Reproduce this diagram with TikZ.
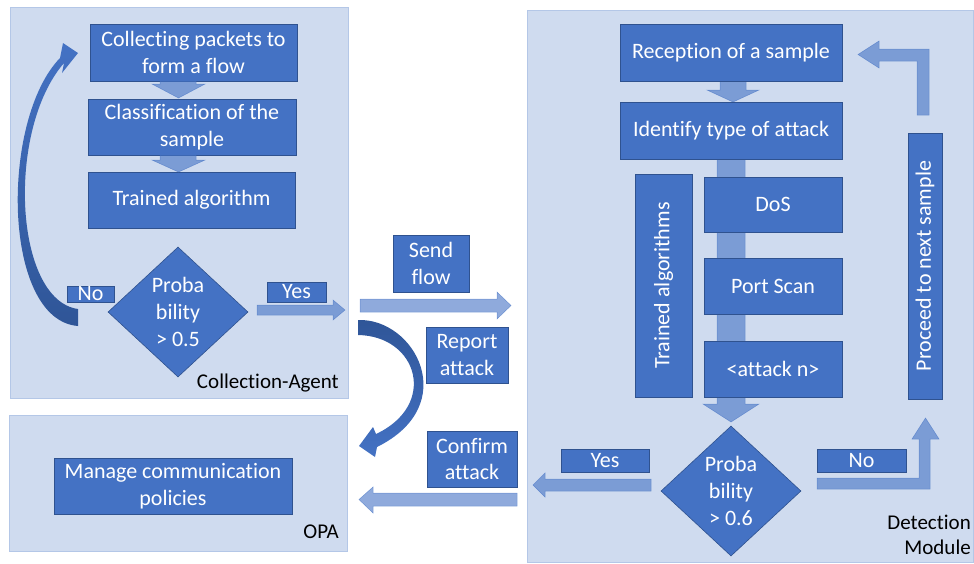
\documentclass[tikz,border=0pt]{standalone}
\usepackage{fontspec}
\setmainfont{Carlito}[Ligatures=NoCommon]
\usetikzlibrary{shapes.geometric}
\definecolor{panelfill}{HTML}{CFDBEF}
\definecolor{paneldraw}{HTML}{B4C7E7}
\definecolor{boxfill}{HTML}{4472C4}
\definecolor{boxdraw}{HTML}{2F528F}
\definecolor{curvedark}{HTML}{2F5597}
\begin{document}
\begin{tikzpicture}[x=1pt,y=-1pt,
  panel/.style={fill=panelfill,draw=paneldraw,line width=0.8pt},
  boxtext/.style={text=white,inner sep=0pt,align=center,font=\fontsize{22}{26.7}\selectfont},
  box/.style={boxtext,rectangle,fill=boxfill,draw=boxdraw,line width=0.6pt},
  decision/.style={diamond,fill=boxfill,draw=boxdraw,line width=0.6pt,inner sep=0pt},
  flowarrow/.style={fill=boxfill,fill opacity=0.6,draw=boxfill,draw opacity=0.6,line width=0.5pt},
  tag/.style={text=black,inner sep=0pt,font=\fontsize{21}{25}\selectfont}]
\useasboundingbox (0,0) rectangle (974,563);

% ---------- panels ----------
\path[panel] (10,7) rectangle (348,398);
\path[panel] (9,415) rectangle (347,551);
\path[panel] (527,10) rectangle (973.6,562.6);

% ---------- collection agent ----------
\node[box,minimum width=207pt,minimum height=57pt] (collect) at (193.5,52.5) {Collecting packets to\\form a flow};
\node[box,minimum width=208pt,minimum height=56pt] (classif) at (192,127) {Classification of the\\sample};
\node[box,minimum width=207pt,minimum height=56pt] (trained) at (191.5,200) {Trained algorithm};
\node[decision,minimum width=140pt,minimum height=130pt] (dec1) at (178,312) {};
\node[boxtext] (dec1t) at (dec1) {Proba\\bility\\> 0.5};
\node[box,minimum width=47pt,minimum height=16pt] (no1) at (90.5,294) {No};
\node[box,minimum width=59pt,minimum height=20pt] (yes1) at (296.5,292) {Yes};
\node[tag,anchor=east] (lblca) at (339,383) {Collection-Agent};

% block arrows between the steps
\path[flowarrow] (160,81) -- (196,81) -- (196,84) -- (205,84) -- (178.5,98) -- (152,84) -- (160,84) -- cycle;
\path[flowarrow] (160,155) -- (196,155) -- (196,160) -- (205,160) -- (178.5,172) -- (152,160) -- (160,160) -- cycle;
\path[flowarrow] (257,305) -- (333,305) -- (333,300) -- (345,310) -- (333,320) -- (333,315) -- (257,315) -- cycle;

% loop back to packet collection
\shade[top color=boxfill,bottom color=curvedark]
  (78,326) -- (78,309)
  .. controls (14,300) and (6,130) .. (64,63)
  -- (62,73) -- (78,53) -- (63,43) -- (60,58)
  .. controls (0,120) and (2,320) .. (78,326) -- cycle;

% ---------- exchanges between modules ----------
\node[box,minimum width=76pt,minimum height=57pt] (send) at (431,263.5) {Send\\flow};
\node[box,minimum width=82pt,minimum height=56pt] (report) at (467,355) {Report\\attack};
\node[box,minimum width=90pt,minimum height=56pt] (confirm) at (472,459) {Confirm\\attack};
\path[flowarrow] (360,299) -- (497,299) -- (497,292) -- (511,305.5) -- (497,319) -- (497,312) -- (360,312) -- cycle;
\path[flowarrow] (517,493) -- (373,493) -- (373,487) -- (359,499.5) -- (373,513) -- (373,506) -- (517,506) -- cycle;
\shade[top color=curvedark,bottom color=boxfill]
  (358,335) -- (358,320)
  .. controls (415,318) and (462,405) .. (377,447)
  -- (375,457) -- (359,446) -- (373,427) -- (376,434)
  .. controls (438,405) and (418,336) .. (358,335) -- cycle;

% ---------- OPA ----------
\node[box,minimum width=238pt,minimum height=56pt] (manage) at (173,486) {Manage communication\\policies};
\node[tag,anchor=east] (lblopa) at (339,532) {OPA};

% ---------- detection module ----------
% shaft running through the attack types
\path[flowarrow] (717,159) -- (745,159) -- (745,404) -- (759,404) -- (731,422) -- (703,404) -- (717,404) -- cycle;
\path[flowarrow] (720,81) -- (746,81) -- (746,90) -- (759,90) -- (733,102) -- (707,90) -- (720,90) -- cycle;

\node[box,minimum width=222pt,minimum height=57pt] (recep) at (731,52.5) {Reception of a sample};
\node[box,minimum width=222pt,minimum height=57pt] (ident) at (731,130.5) {Identify type of attack};
\node[box,minimum width=138pt,minimum height=55pt] (dos) at (773,204.5) {DoS};
\node[box,minimum width=138pt,minimum height=56pt] (port) at (773,286) {Port Scan};
\node[box,minimum width=138pt,minimum height=56pt] (attn) at (773,369) {<attack n>};
\node[box,rotate=90,minimum width=223pt,minimum height=57pt] (algs) at (663.5,285.5) {Trained algorithms};
\node[box,rotate=90,minimum width=266pt,minimum height=34pt] (proceed) at (925,266) {Proceed to next sample};

\node[decision,minimum width=140pt,minimum height=130pt] (dec2) at (731,491) {};
\node[boxtext] (dec2t) at (dec2) {Proba\\bility\\> 0.6};
\node[box,minimum width=88pt,minimum height=23pt] (yes2) at (605,460.5) {Yes};
\node[box,minimum width=89pt,minimum height=23pt] (no2) at (861.5,460.5) {No};

\path[flowarrow] (651,479) -- (545,479) -- (545,473) -- (533,485) -- (545,497) -- (545,491) -- (651,491) -- cycle;
\path[flowarrow] (817,478) -- (919,478) -- (919,439) -- (912,439) -- (925.5,418) -- (939,439) -- (930,439) -- (930,489) -- (817,489) -- cycle;
\path[flowarrow] (929,115) -- (917,115) -- (917,61) -- (879,61) -- (879,68) -- (858,54.5) -- (879,41) -- (879,49) -- (929,49) -- cycle;

\node[tag,anchor=east,align=right] (lbldm) at (971,535) {Detection\\Module};
\end{tikzpicture}
\end{document}
